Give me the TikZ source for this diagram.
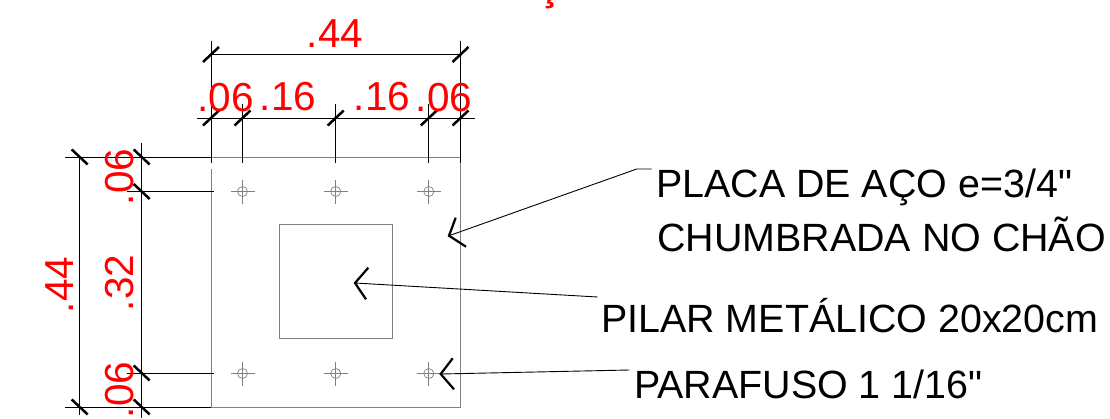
\documentclass[tikz,border=0pt]{standalone}
\usepackage{fontspec}
\setmainfont[Ligatures=TeXOff]{Liberation Sans}
\usetikzlibrary{calc}
\definecolor{dimred}{RGB}{255,0,0}
\tikzset{
	plateline/.style={line width=0.8pt, color=black!50},
	holeline/.style={line width=0.7pt, color=black!50},
	dimline/.style={line width=0.9pt, color=black},
	tickmark/.style={line width=2.5pt, color=black},
	leaderline/.style={line width=0.9pt, color=black},
	barbline/.style={line width=2.2pt, color=black},
	dimtext/.style={color=dimred, font=\fontsize{40.5}{40.5}\selectfont, inner sep=0pt},
	notetext/.style={color=black, font=\fontsize{39.4}{39.4}\selectfont, inner sep=0pt, anchor=base west},
}
\newcommand{\boltmark}[2]{
	\draw[holeline] (#1, #2) circle (5);
	\draw[holeline] (#1-12, #2) -- (#1+12, #2);
	\draw[holeline] (#1, #2-12) -- (#1, #2+12);
}
\newcommand{\ticktop}[2]{\draw[tickmark] (#1-8, #2+7.5) -- (#1+8, #2-7.5);}
\newcommand{\tickleft}[2]{\draw[tickmark] (#1-8, #2-7.5) -- (#1+8, #2+7.5);}
\begin{document}
\begin{tikzpicture}[x=1pt, y=-1pt]
	%%%%% START %%%%%
	\useasboundingbox (0, 0) rectangle (1110, 418);
	
	% plate and column
	\draw[plateline] (211, 169) -- (211, 407) -- (460.5, 407) -- (460.5, 157) -- (211, 157);
	\draw[plateline] (279, 224.5) rectangle (392.5, 338);
	
	% bolts
	\foreach \xpos in {242.5, 335.7, 428.8} {
		\boltmark{\xpos}{191.5}
		\boltmark{\xpos}{373.5}
	}
	
	% top dimensions
	\draw[dimline] (211, 40.5) -- (211, 163);
	\draw[dimline] (460.5, 40.5) -- (460.5, 163);
	\draw[dimline] (211, 54.5) -- (460.5, 54.5);
	\draw[dimline] (197, 118) -- (475, 118);
	\draw[dimline] (242.5, 104) -- (242.5, 163);
	\draw[dimline] (335.7, 104) -- (335.7, 163);
	\draw[dimline] (428.8, 104) -- (428.8, 163);
	\foreach \xpos in {211, 460.5} {
		\ticktop{\xpos}{54.5}
		\ticktop{\xpos}{118}
	}
	\foreach \xpos in {242.5, 335.7, 428.8} {
		\ticktop{\xpos}{118}
	}
	
	% left dimensions
	\draw[dimline] (65, 157) -- (211, 157);
	\draw[dimline] (65, 407) -- (211, 407);
	\draw[dimline] (127, 191.5) -- (214, 191.5);
	\draw[dimline] (127, 373) -- (214, 373);
	\draw[dimline] (79.7, 157) -- (79.7, 415);
	\draw[dimline] (141.7, 143) -- (141.7, 418);
	\tickleft{79.7}{157}
	\tickleft{141.7}{157}
	\tickleft{141.7}{191.5}
	\tickleft{141.7}{373}
	\tickleft{79.7}{407}
	\tickleft{141.7}{407}
	
	% dimension values
	\node[dimtext] (dimTotalTop) at (335, 34) {.44};
	\node[dimtext] (dimEdgeA) at (225.5, 98) {.06};
	\node[dimtext] (dimMidA) at (288, 97) {.16};
	\node[dimtext] (dimMidB) at (382, 97) {.16};
	\node[dimtext] (dimEdgeB) at (444, 98) {.06};
	\node[dimtext, rotate=90] (dimTotalLeft) at (60, 285) {.44};
	\node[dimtext, rotate=90] (dimEdgeC) at (119.5, 177) {.06};
	\node[dimtext, rotate=90] (dimMid) at (119.5, 283) {.32};
	\node[dimtext, rotate=90] (dimEdgeD) at (119.5, 390) {.06};
	
	% clipped title letter at the top edge
	\node[dimtext, anchor=base] (titleCut) at (550, 0) {\bfseries ç};
	
	% notes
	\node[notetext] (notePlateA) at (656, 197.5) {PLACA DE AÇO e=3/4"};
	\node[notetext] (notePlateB) at (657, 251) {CHUMBRADA NO CHÃO};
	\node[notetext] (notePilar) at (601, 332.5) {PILAR METÁLICO 20x20cm};
	\node[notetext] (noteBolt) at (634, 398) {PARAFUSO 1 1/16"};
	
	% leaders
	\coordinate (tipPlate) at (449, 235.7);
	\coordinate (tipPilar) at (355, 283);
	\coordinate (tipBolt) at (440.7, 374);
	\draw[leaderline] (tipPlate) -- (636.7, 169) -- (651.7, 169);
	\draw[leaderline] (tipPilar) -- (597.7, 297);
	\draw[leaderline] (tipBolt) -- (629.3, 370);
	\draw[barbline] (455.7, 217.7) -- (tipPlate) -- (466, 246.7);
	\draw[barbline] (368.3, 267.7) -- (tipPilar) -- (366, 299.3);
	\draw[barbline] (452.7, 358.3) -- (tipBolt) -- (454, 389.3);
	
	%%%%% END %%%%%
\end{tikzpicture}
\end{document}
